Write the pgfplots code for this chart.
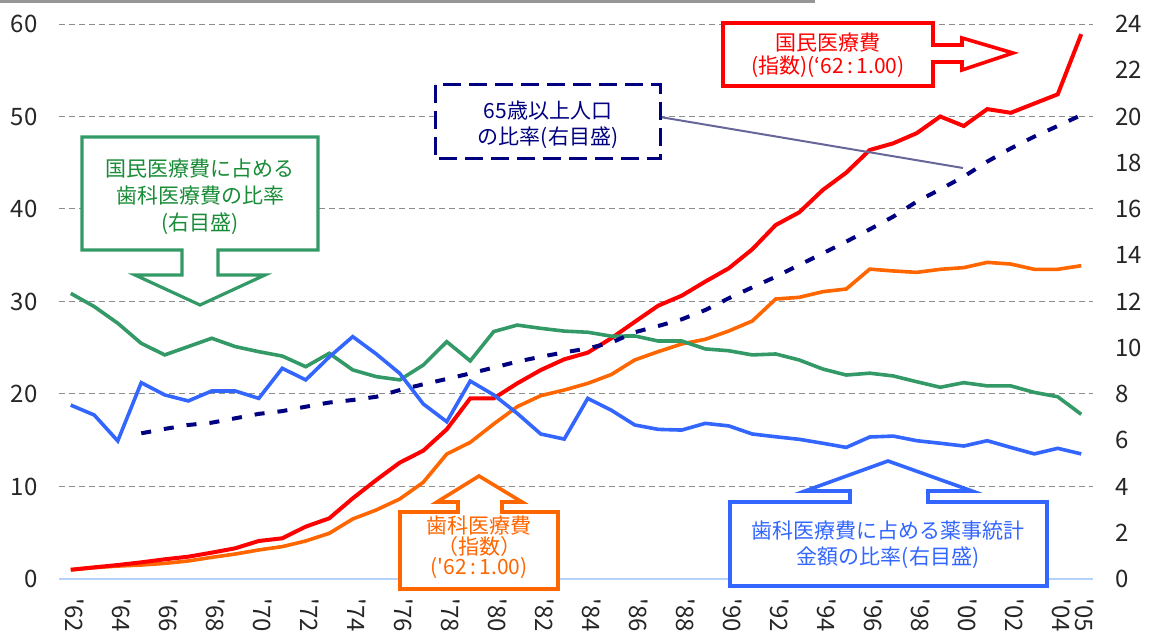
\documentclass[border=0pt]{standalone}
\usepackage{fontspec}
\setmainfont{Noto Sans CJK JP}
\usepackage{pgfplots}
\usepackage{pgfplotstable}
\pgfplotsset{compat=1.18}

\definecolor{cRed}{RGB}{255,0,0}
\definecolor{cOrange}{RGB}{255,102,0}
\definecolor{cGreen}{RGB}{51,153,102}
\definecolor{cGreenTxt}{RGB}{25,140,55}
\definecolor{cBlue}{RGB}{51,102,255}
\definecolor{cNavy}{RGB}{0,0,128}
\definecolor{cConn}{RGB}{102,102,153}
\definecolor{cBase}{RGB}{180,210,250}
\definecolor{cGrid}{RGB}{140,140,140}
\definecolor{cTop}{RGB}{150,150,150}
\newcommand{\q}{\textquotesingle}

\pgfplotstableread{
year red orange
1962 1.00 1.00
1963 1.26 1.22
1964 1.51 1.40
1965 1.80 1.51
1966 2.13 1.69
1967 2.41 1.95
1968 2.85 2.34
1969 3.32 2.70
1970 4.11 3.14
1971 4.40 3.50
1972 5.66 4.11
1973 6.56 4.94
1974 8.72 6.49
1975 10.70 7.46
1976 12.58 8.65
1977 13.87 10.45
1978 16.18 13.51
1979 19.53 14.77
1980 19.53 16.76
1981 21.15 18.63
1982 22.59 19.82
1983 23.75 20.43
1984 24.47 21.15
1985 26.02 22.10
1986 27.80 23.68
1987 29.55 24.58
1988 30.63 25.41
1989 32.15 25.91
1990 33.59 26.81
1991 35.64 27.89
1992 38.27 30.27
1993 39.64 30.45
1994 42.05 31.06
1995 43.93 31.35
1996 46.38 33.50
1997 47.10 33.30
1998 48.20 33.15
1999 50.00 33.48
2000 48.97 33.66
2001 50.80 34.23
2002 50.40 34.05
2003 51.40 33.48
2004 52.40 33.48
2005 58.90 33.87
}\leftdata

\pgfplotstableread{
year green blue
1962 12.35 7.52
1963 11.78 7.09
1964 11.06 5.97
1965 10.19 8.49
1966 9.69 7.96
1967 10.05 7.70
1968 10.41 8.13
1969 10.05 8.13
1970 9.83 7.81
1971 9.64 9.11
1972 9.18 8.61
1973 9.76 9.60
1974 9.04 10.48
1975 8.75 9.73
1976 8.61 8.89
1977 9.25 7.57
1978 10.26 6.80
1979 9.43 8.56
1980 10.70 7.96
1981 10.98 7.16
1982 10.84 6.27
1983 10.72 6.05
1984 10.67 7.81
1985 10.50 7.30
1986 10.51 6.66
1987 10.29 6.47
1988 10.29 6.44
1989 9.95 6.73
1990 9.87 6.62
1991 9.69 6.27
1992 9.73 6.15
1993 9.47 6.04
1994 9.08 5.87
1995 8.82 5.69
1996 8.90 6.14
1997 8.78 6.18
1998 8.53 5.98
1999 8.29 5.87
2000 8.49 5.75
2001 8.35 5.98
2002 8.35 5.69
2003 8.07 5.41
2004 7.88 5.65
2005 7.12 5.41
}\rightdata

\pgfplotstableread{
year navy
1965 6.30
1966 6.49
1967 6.66
1968 6.76
1969 6.95
1970 7.14
1971 7.26
1972 7.45
1973 7.63
1974 7.74
1975 7.88
1976 8.17
1977 8.42
1978 8.65
1979 8.89
1980 9.14
1981 9.40
1982 9.61
1983 9.80
1984 9.97
1985 10.22
1986 10.67
1987 10.94
1988 11.23
1989 11.63
1990 12.14
1991 12.61
1992 13.07
1993 13.58
1994 14.08
1995 14.59
1996 15.12
1997 15.67
1998 16.32
1999 16.85
2000 17.40
2001 18.05
2002 18.62
2003 19.13
2004 19.59
2005 20.06
}\navydata

\begin{document}
\begin{tikzpicture}
\path[use as bounding box] (0,0) rectangle (576.5pt,318.5pt);

\pgfplotsset{
  common/.style={
    at={(29.5pt,29pt)}, anchor=south west,
    scale only axis, width=517pt, height=277.5pt,
    xmin=1961.5, xmax=2005.5,
    axis line style={draw=none},
    major tick length=0pt,
    tick label style={font=\fontsize{12}{14}\selectfont, text=black!85},
    /pgf/number format/assume math mode=true,
    clip=false,
  }
}

\begin{axis}[common,
  ymin=0, ymax=60, ytick={0,10,...,60},
  ymajorgrids,
  major grid style={cGrid, dash pattern=on 3pt off 2pt, line width=0.5pt},
  yticklabel style={anchor=east, inner sep=0pt, xshift=-10.5pt},
  xtick={1962,1964,1966,1968,1970,1972,1974,1976,1978,1980,1982,1984,1986,1988,1990,1992,1994,1996,1998,2000,2002,2004,2005},
  xticklabels={\q62,\q64,\q66,\q68,\q70,\q72,\q74,\q76,\q78,\q80,\q82,\q84,\q86,\q88,\q90,\q92,\q94,\q96,\q98,\q00,\q02,\q04,\q05},
  xticklabel style={rotate=-90, anchor=mid west, inner sep=0pt},
  xticklabel shift=9.5pt,
]
\draw[cBase, line width=0.9pt] (axis cs:1961.5,0) -- (axis cs:2005.5,0);
\addplot[cOrange, line width=1.8pt, mark=none] table[x=year, y=orange] {\leftdata};
\addplot[cRed, line width=2pt, mark=none] table[x=year, y=red] {\leftdata};
\end{axis}

\begin{axis}[common,
  ymin=0, ymax=24, ytick={0,2,...,24},
  yticklabel pos=right,
  yticklabel style={anchor=west, inner sep=0pt, xshift=11pt},
  xtick=\empty,
]
\addplot[cGreen, line width=1.8pt, mark=none] table[x=year, y=green] {\rightdata};
\addplot[cBlue, line width=1.8pt, mark=none] table[x=year, y=blue] {\rightdata};
\addplot[cNavy, line width=2pt, dash pattern=on 5pt off 6.5pt, mark=none] table[x=year, y=navy] {\navydata};
\end{axis}

\begin{scope}[x=0.5pt, y=-0.5pt, shift={(0pt,318.5pt)}]
  \fill[cTop] (0,0) rectangle (815,3);
  % green callout
  \draw[cGreen, line width=1.6pt, fill=white, line join=miter]
    (82,137) -- (318,137) -- (318,250) -- (218,250) -- (218,275) -- (265,275) -- (200,305) -- (135,275) -- (182,275) -- (182,250) -- (82,250) -- cycle;
  \begin{scope}[every node/.style={font=\fontsize{10.5}{12}\selectfont, inner sep=0pt}]
  \node[text=cGreenTxt] at (200,169) {国民医療費に占める};
  \node[text=cGreenTxt] at (200,196) {歯科医療費の比率};
  \node[text=cGreenTxt] at (200,224) {(右目盛)};
  % navy dashed box
  \draw[cConn, line width=1pt] (660,117) -- (963,168);
  \draw[cNavy, line width=1.5pt, dash pattern=on 9pt off 4pt, fill=white] (435,85) rectangle (660,159);
  \node[text=cNavy] at (548,111) {65歳以上人口};
  \node[text=cNavy] at (548,138) {の比率(右目盛)};
  % red callout
  \draw[cRed, line width=1.8pt, fill=white, line join=miter]
    (723,23) -- (933,23) -- (933,45) -- (962,45) -- (962,38) -- (1013,53) -- (962,70) -- (962,62) -- (933,62) -- (933,86) -- (723,86) -- cycle;
  \node[text=cRed] at (828,43) {国民医療費};
  \node[text=cRed] at (828,67) {(指数)(‘62\,:\,1.00)};
  % orange callout
  \draw[cOrange, line width=1.8pt, fill=white, line join=miter]
    (400,589) -- (400,512) -- (458,512) -- (458,502) -- (437,502) -- (479,476) -- (522,502) -- (502,502) -- (502,512) -- (558,512) -- (558,589) -- cycle;
  \node[text=cOrange] at (479,526) {歯科医療費};
  \node[text=cOrange] at (479,547) {（指数）};
  \node[text=cOrange] at (479,568) {(\q62\,:\,1.00)};
  % blue callout
  \draw[cBlue, line width=1.8pt, fill=white, line join=miter]
    (730,586) -- (730,502) -- (850,502) -- (850,491) -- (805,491) -- (888,461) -- (972,491) -- (928,491) -- (928,502) -- (1047,502) -- (1047,586) -- cycle;
  \node[text=cBlue] at (888,531) {歯科医療費に占める薬事統計};
  \node[text=cBlue] at (888,558) {金額の比率(右目盛)};
  \end{scope}
\end{scope}
\end{tikzpicture}
\end{document}
